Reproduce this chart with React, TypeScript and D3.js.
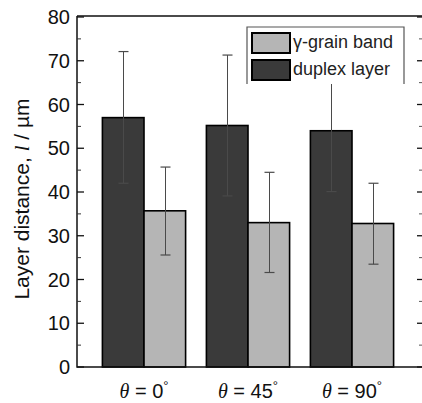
import React, { useEffect, useRef } from 'react';
import * as d3 from 'd3';

const categories = ['0', '45', '90'];
const seriesNames = ['duplex layer', 'γ-grain band'];
const duplexValues = [57.0, 55.2, 54.0];
const duplexErrLow = [42.0, 39.1, 40.1];
const duplexErrHigh = [72.1, 71.3, 68.0];
const grainValues = [35.7, 33.0, 32.8];
const grainErrLow = [25.6, 21.6, 23.5];
const grainErrHigh = [45.7, 44.5, 42.0];
const yTicks = [0, 10, 20, 30, 40, 50, 60, 70, 80];
const yMinorTicks = [5, 15, 25, 35, 45, 55, 65, 75];

export default function App() {
  const svgRef = useRef<SVGSVGElement | null>(null);

  useEffect(() => {
    if (!svgRef.current) return;
    const width = 422;
    const height = 403;
    const left = 77;
    const right = 422;
    const top = 16;
    const bottom = 367;
    const font = 'Liberation Sans, Arial, Helvetica, sans-serif';
    const serif = 'Liberation Serif, Times New Roman, serif';
    const dark = '#3a3a3a';
    const light = '#b5b5b5';

    const svg = d3.select(svgRef.current);
    svg.selectAll('*').remove();
    svg.attr('width', width).attr('height', height);

    const y = d3.scaleLinear().domain([0, 80]).range([bottom, top + 1]);
    const x0 = d3.scaleBand().domain(categories).range([92, 404]).paddingInner(0.2).paddingOuter(0.1);
    const x1 = d3.scaleBand().domain(seriesNames).range([0, x0.bandwidth()]);

    const g = svg.append('g');

    const series = [
      { name: seriesNames[0], vals: duplexValues, lo: duplexErrLow, hi: duplexErrHigh, fill: dark },
      { name: seriesNames[1], vals: grainValues, lo: grainErrLow, hi: grainErrHigh, fill: light },
    ];

    series.forEach((s) => {
      categories.forEach((c, i) => {
        const bx = (x0(c) as number) + (x1(s.name) as number);
        const bw = x1.bandwidth();
        g.append('rect')
          .attr('x', bx)
          .attr('y', y(s.vals[i]))
          .attr('width', bw)
          .attr('height', y(0) - y(s.vals[i]))
          .attr('fill', s.fill)
          .attr('stroke', '#000')
          .attr('stroke-width', 1.6);
      });
    });

    // error bars
    series.forEach((s) => {
      categories.forEach((c, i) => {
        const cx = Math.round((x0(c) as number) + (x1(s.name) as number) + x1.bandwidth() / 2) + 0.5;
        const col = '#4a4a4a';
        g.append('line')
          .attr('x1', cx).attr('x2', cx)
          .attr('y1', y(s.lo[i])).attr('y2', y(s.hi[i]))
          .attr('stroke', col).attr('stroke-width', 1);
        [s.lo[i], s.hi[i]].forEach((v) => {
          g.append('line')
            .attr('x1', cx - 5).attr('x2', cx + 5)
            .attr('y1', y(v)).attr('y2', y(v))
            .attr('stroke', col).attr('stroke-width', 1.2);
        });
      });
    });

    // frame
    g.append('path')
      .attr('d', `M${left},${top}H${right}M${left},${top}V${bottom}H${right}`)
      .attr('fill', 'none')
      .attr('stroke', '#111')
      .attr('stroke-width', 1.5);

    // axis ticks (inward) and labels
    yTicks.forEach((t) => {
      g.append('line').attr('x1', left).attr('x2', left + 7).attr('y1', y(t)).attr('y2', y(t))
        .attr('stroke', '#111').attr('stroke-width', 1.3);
      g.append('line').attr('x1', right).attr('x2', right - 5).attr('y1', y(t)).attr('y2', y(t))
        .attr('stroke', '#111').attr('stroke-width', 1.3);
      g.append('text')
        .attr('x', left - 7)
        .attr('y', y(t))
        .attr('dy', '0.36em')
        .attr('text-anchor', 'end')
        .attr('font-family', font)
        .attr('font-size', 20)
        .attr('fill', '#111')
        .text(String(t));
    });
    yMinorTicks.forEach((t) => {
      g.append('line').attr('x1', left).attr('x2', left + 4).attr('y1', y(t)).attr('y2', y(t))
        .attr('stroke', '#333').attr('stroke-width', 1);
      g.append('line').attr('x1', right).attr('x2', right - 3).attr('y1', y(t)).attr('y2', y(t))
        .attr('stroke', '#555').attr('stroke-width', 1);
    });

    // y label
    const yl = g.append('text')
      .attr('transform', `translate(29,199) rotate(-90)`)
      .attr('text-anchor', 'middle')
      .attr('font-family', font)
      .attr('font-size', 21)
      .attr('fill', '#111');
    yl.append('tspan').text('Layer distance, ');
    yl.append('tspan').attr('font-style', 'italic').attr('font-family', serif).text('l');
    yl.append('tspan').text(' / µm');

    // x labels
    categories.forEach((c) => {
      const cx = (x0(c) as number) + x0.bandwidth() / 2;
      const t = g.append('text')
        .attr('x', cx)
        .attr('y', 398)
        .attr('text-anchor', 'middle')
        .attr('font-family', font)
        .attr('font-size', 20)
        .attr('fill', '#111');
      t.append('tspan').attr('font-style', 'italic').attr('font-family', serif).text('θ');
      t.append('tspan').text(` = ${c}`);
      t.append('tspan').attr('font-size', 13).attr('dy', -8).text('°');
    });

    // legend
    const lg = g.append('g');
    lg.append('rect').attr('x', 247).attr('y', 27).attr('width', 157).attr('height', 57).attr('fill', '#fff');
    lg.append('path').attr('d', 'M247,84V27H404V84').attr('fill', 'none').attr('stroke', '#555').attr('stroke-width', 1.2);
    const items = [
      { label: 'γ-grain band', fill: light },
      { label: 'duplex layer', fill: dark },
    ];
    items.forEach((it, i) => {
      const yy = 33 + i * 27;
      lg.append('rect').attr('x', 252).attr('y', yy).attr('width', 38).attr('height', 20)
        .attr('fill', it.fill).attr('stroke', '#000').attr('stroke-width', 2);
      lg.append('text')
        .attr('x', 293)
        .attr('y', yy + 15)
        .attr('font-family', font)
        .attr('font-size', 18)
        .attr('fill', '#222')
        .text(it.label);
    });
  }, []);

  return (
    <div style={{ position: 'fixed', left: 0, top: 0, width: 422, height: 403, background: '#fff' }}>
      <svg ref={svgRef} />
    </div>
  );
}
